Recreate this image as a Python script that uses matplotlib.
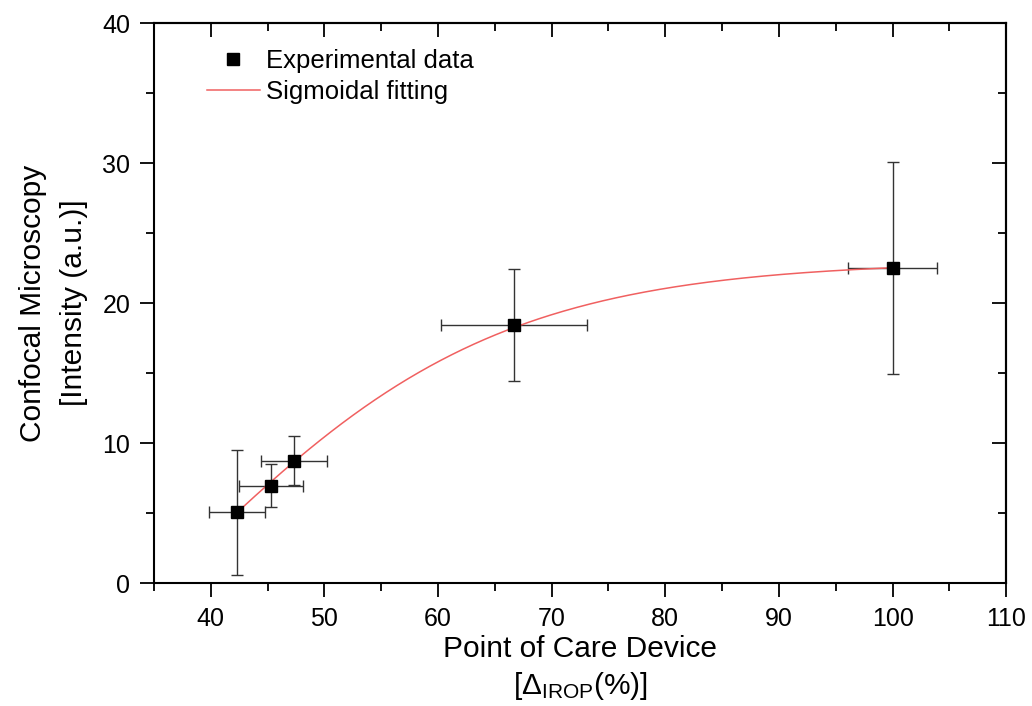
import numpy as np
import matplotlib
matplotlib.use("Agg")
import matplotlib.pyplot as plt
from matplotlib.ticker import MultipleLocator

plt.rcParams['font.family'] = ['Liberation Sans', 'DejaVu Sans']
plt.rcParams['mathtext.fontset'] = 'custom'
plt.rcParams['mathtext.rm'] = 'Liberation Sans'
plt.rcParams['mathtext.it'] = 'Liberation Sans'

# Experimental data
x_vals = [42.3, 45.3, 47.3, 66.7, 100.0]
y_vals = [5.05, 6.95, 8.75, 18.45, 22.5]
x_err = [2.5, 2.85, 2.9, 6.45, 3.9]
y_err = [4.45, 1.55, 1.75, 4.0, 7.55]

# Sigmoidal (Boltzmann) fit parameters
A1, A2, x0, dx = -20.0, 23.0, 37.7, 13.9

fig = plt.figure(figsize=(10.32, 7.06), dpi=100)
ax = fig.add_axes([0.1492, 0.1742, 0.975 - 0.1492, 0.9674 - 0.1742])

xf = np.linspace(min(x_vals), max(x_vals), 300)
yf = A2 + (A1 - A2) / (1 + np.exp((xf - x0) / dx))

ax.errorbar(x_vals, y_vals, xerr=x_err, yerr=y_err, fmt='none',
            ecolor='#333333', elinewidth=1.0, capsize=4, capthick=1.0, zorder=2)
ax.plot(xf, yf, color='#f06060', lw=1.1, zorder=3, label='Sigmoidal fitting')
ax.plot(x_vals, y_vals, 's', color='black', markersize=8, zorder=4,
        label='Experimental data', linestyle='none')

ax.set_xlim(35, 110)
ax.set_ylim(0, 40)
ax.xaxis.set_major_locator(MultipleLocator(10))
ax.xaxis.set_minor_locator(MultipleLocator(5))
ax.yaxis.set_major_locator(MultipleLocator(10))
ax.yaxis.set_minor_locator(MultipleLocator(5))
ax.set_xticks([40, 50, 60, 70, 80, 90, 100, 110])

for s in ax.spines.values():
    s.set_linewidth(1.5)

ax.tick_params(axis='both', which='major', direction='out', length=10, width=1.3,
               labelsize=18, pad=7)
ax.tick_params(axis='both', which='minor', direction='out', length=6, width=1.3)

# Mirror ticks on top/right (inward)
axt = ax.secondary_xaxis('top')
axt.xaxis.set_major_locator(MultipleLocator(10))
axt.xaxis.set_minor_locator(MultipleLocator(5))
axt.tick_params(which='major', direction='in', length=10, width=1.3, labeltop=False)
axt.tick_params(which='minor', direction='in', length=6, width=1.3)
axr = ax.secondary_yaxis('right')
axr.yaxis.set_major_locator(MultipleLocator(10))
axr.yaxis.set_minor_locator(MultipleLocator(5))
axr.tick_params(which='major', direction='in', length=10, width=1.3, labelright=False)
axr.tick_params(which='minor', direction='in', length=6, width=1.3)
for a in (axt, axr):
    for s in a.spines.values():
        s.set_linewidth(1.5)

ax.set_xlabel('Point of Care Device\n[Δ$_{\\mathrm{IROP}}$(%)]', fontsize=21.5,
              linespacing=1.3, labelpad=3)
ax.set_ylabel('Confocal Microscopy\n[Intensity (a.u.)]', fontsize=21.5,
              linespacing=1.6, labelpad=10)

handles, labels = ax.get_legend_handles_labels()
ax.legend(handles[::-1], labels[::-1], loc='upper left', frameon=False,
          fontsize=18.5, bbox_to_anchor=(0.035, 0.995), handlelength=2.05,
          handletextpad=0.25, labelspacing=0.28)

fig.savefig('out.png', dpi=100)
